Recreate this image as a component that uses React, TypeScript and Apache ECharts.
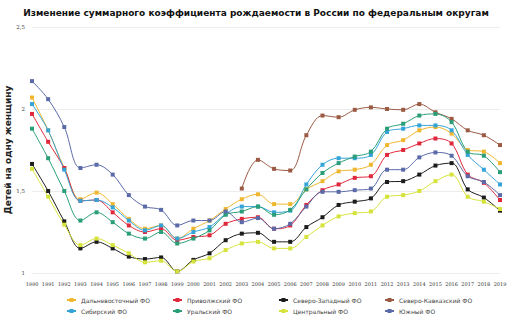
import React, { useEffect, useRef } from "react";
import * as echarts from "echarts";

const years = [
  "1990","1991","1992","1993","1994","1995","1996","1997","1998","1999",
  "2000","2001","2002","2003","2004","2005","2006","2007","2008","2009",
  "2010","2011","2012","2013","2014","2015","2016","2017","2018","2019",
];

const farEast = [2.07,1.87,1.64,1.45,1.49,1.42,1.33,1.27,1.29,1.21,1.27,1.32,1.39,1.45,1.48,1.42,1.42,1.51,1.56,1.62,1.63,1.66,1.78,1.81,1.87,1.89,1.85,1.75,1.74,1.67];
const volga = [1.97,1.80,1.64,1.44,1.445,1.37,1.29,1.25,1.27,1.20,1.22,1.23,1.30,1.33,1.34,1.27,1.29,1.415,1.505,1.54,1.58,1.59,1.72,1.75,1.79,1.82,1.79,1.60,1.55,1.445];
const northWest = [1.665,1.50,1.315,1.15,1.19,1.15,1.10,1.085,1.095,1.01,1.08,1.12,1.20,1.24,1.245,1.19,1.19,1.28,1.34,1.415,1.435,1.455,1.555,1.56,1.60,1.655,1.67,1.51,1.46,1.38];
const northCaucasus = [null,null,null,null,null,null,null,null,null,null,null,null,null,1.515,1.69,1.635,1.625,1.84,1.96,1.95,1.995,2.01,2.0,1.995,2.03,1.98,1.94,1.87,1.84,1.78];
const siberia = [2.03,1.87,1.63,1.44,1.445,1.40,1.32,1.26,1.29,1.21,1.25,1.28,1.36,1.405,1.405,1.37,1.38,1.54,1.66,1.70,1.70,1.72,1.86,1.88,1.90,1.90,1.87,1.72,1.63,1.54];
const ural = [1.88,1.70,1.50,1.32,1.37,1.31,1.24,1.21,1.25,1.18,1.21,1.26,1.355,1.375,1.405,1.355,1.385,1.51,1.61,1.67,1.71,1.74,1.88,1.91,1.96,1.97,1.92,1.74,1.715,1.615];
const central = [1.635,1.465,1.295,1.17,1.21,1.17,1.12,1.065,1.075,1.01,1.07,1.09,1.14,1.18,1.19,1.15,1.15,1.22,1.29,1.345,1.365,1.375,1.465,1.475,1.50,1.56,1.60,1.465,1.435,1.39];
const south = [2.17,2.06,1.89,1.64,1.66,1.60,1.475,1.405,1.385,1.29,1.32,1.32,1.375,1.31,1.335,1.27,1.30,1.405,1.495,1.495,1.505,1.515,1.63,1.63,1.705,1.735,1.715,1.59,1.555,1.475];

const seriesNames = [
  "Дальневосточный ФО",
  "Приволжский ФО",
  "Северо-Западный ФО",
  "Северо-Кавказский ФО",
  "Сибирский ФО",
  "Уральский ФО",
  "Центральный ФО",
  "Южный ФО",
];
const seriesData = [farEast, volga, northWest, northCaucasus, siberia, ural, central, south];
const colors = ["#efb72f", "#e0283c", "#1c1c1c", "#9a5a44", "#33a3d8", "#2a9e78", "#d6e33c", "#5b6aa8"];

export default function App() {
  const ref = useRef<HTMLDivElement>(null);
  useEffect(() => {
    if (!ref.current) return;
    const chart = echarts.init(ref.current, null, { renderer: "svg" });
    const legends = seriesNames.map((name, i) => ({
      data: [name],
      left: 66 + (i % 4) * 106,
      top: 297 + Math.floor(i / 4) * 11,
      itemWidth: 9,
      itemHeight: 5,
      padding: 0,
      textStyle: { fontSize: 6, color: "#444", fontFamily: "DejaVu Sans" },
    }));
    chart.setOption({
      animation: false,
      color: colors,
      title: {
        text: "Изменение суммарного коэффициента рождаемости в России по федеральным округам",
        left: "center",
        top: 3,
        textStyle: { fontSize: 9, fontWeight: "bold", color: "#111", fontFamily: "DejaVu Sans" },
      },
      legend: legends,
      grid: { left: 32, right: 12, top: 27, bottom: 51, containLabel: false, outerBoundsMode: "none" },
      xAxis: {
        type: "category",
        data: years,
        boundaryGap: false,
        axisLine: { show: false },
        axisTick: { show: false },
        axisLabel: { fontSize: 5, color: "#333", margin: 8, interval: 0, fontFamily: "DejaVu Serif" },
      },
      yAxis: {
        type: "value",
        min: 1,
        max: 2.5,
        interval: 0.5,
        name: "Детей на одну женщину",
        nameLocation: "middle",
        nameGap: 20,
        nameMoveOverlap: false,
        nameTextStyle: { fontSize: 9, fontWeight: "bold", color: "#222", fontFamily: "DejaVu Sans" },
        axisLine: { show: false },
        axisTick: { show: false },
        splitLine: { lineStyle: { color: "#ececec", width: 1 } },
        axisLabel: {
          fontSize: 5.5,
          color: "#444",
          margin: 7,
          fontFamily: "DejaVu Serif",
          formatter: (v: number) => String(v).replace(".", ","),
        },
      },
      series: seriesNames.map((name, i) => ({
        name,
        type: "line",
        data: seriesData[i],
        smooth: 0.35,
        symbol: "rect",
        symbolSize: 4,
        connectNulls: false,
        lineStyle: { width: 1 },
      })),
    });
    return () => chart.dispose();
  }, []);
  return <div ref={ref} style={{ width: 512, height: 324, position: "absolute", left: 0, top: 0 }} />;
}
